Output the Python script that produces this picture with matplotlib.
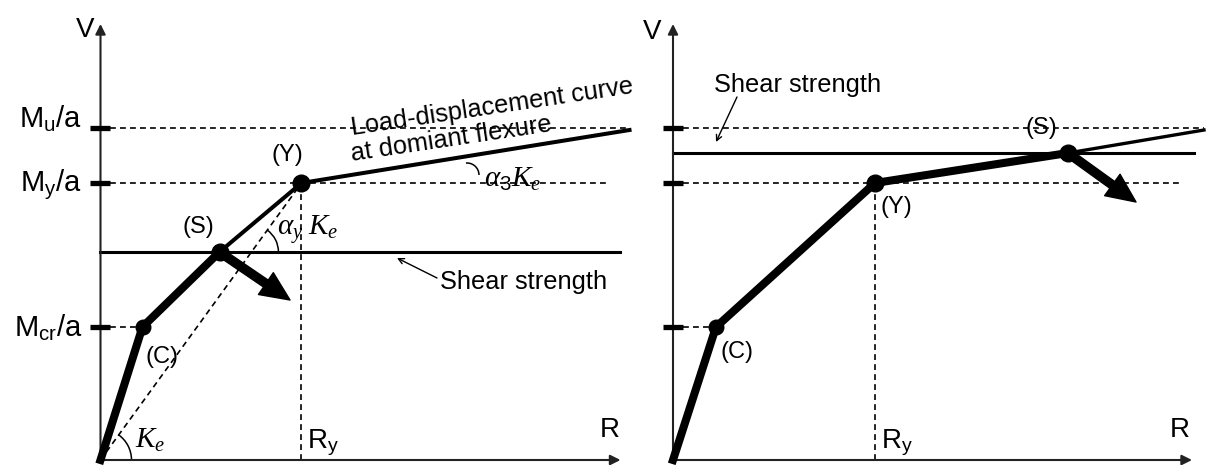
import numpy as np
import matplotlib.pyplot as plt
from matplotlib.patches import Arc, FancyArrowPatch

plt.rcParams['font.family'] = ['Liberation Sans', 'DejaVu Sans']
plt.rcParams['mathtext.fontset'] = 'custom'
plt.rcParams['mathtext.rm'] = 'Liberation Sans'
plt.rcParams['mathtext.sf'] = 'Liberation Sans'
plt.rcParams['mathtext.it'] = 'Liberation Serif:italic'

# levels on the V axis (same in both sketches)
v_cr = 1.33
v_y = 2.77
v_u = 3.32
v_labels = ['M$_{\\mathrm{cr}}$/a', 'M$_{\\mathrm{y}}$/a', 'M$_{\\mathrm{u}}$/a']

# left: shear failure before flexural yielding -> origin, C, S, Y, end of flexure curve
left_r = [0.0, 0.42, 1.19, 2.01, 5.29]
left_v = [0.0, 1.33, 2.08, 2.77, 3.30]
left_shear = 2.08
left_shear_end = 5.19
left_drop = (1.895, 1.60)

# right: shear failure after yielding -> origin, C, Y, S, end of flexure curve
right_r = [0.0, 0.43, 2.02, 3.95, 5.31]
right_v = [0.0, 1.33, 2.77, 3.07, 3.30]
right_shear = 3.07
right_shear_end = 5.21
right_drop = (4.63, 2.58)

fig = plt.figure(figsize=(12.06, 4.65), dpi=100)
axL = fig.add_axes([0, 0, 640 / 1206, 1])
axR = fig.add_axes([640 / 1206, 0, 566 / 1206, 1])
axL.set_xlim(-1.005, 5.395)
axR.set_xlim(-0.33, 5.33)
for ax in (axL, axR):
    ax.set_ylim(-0.05, 4.60)
    ax.axis('off')

dash = dict(color='black', lw=1.2, ls=(0, (3.5, 2.5)), zorder=1)
big = 20


def draw_frame(ax, r_end):
    ax.annotate('', xy=(r_end, 0), xytext=(0, 0),
                arrowprops=dict(arrowstyle='-|>', lw=1.5, color='#222222',
                                mutation_scale=15, shrinkA=0, shrinkB=0))
    ax.annotate('', xy=(0, 4.36), xytext=(0, 0),
                arrowprops=dict(arrowstyle='-|>', lw=1.5, color='#222222',
                                mutation_scale=15, shrinkA=0, shrinkB=0))
    for lv in (v_cr, v_y, v_u):
        ax.plot([-0.1, 0.1], [lv, lv], color='black', lw=3.8, solid_capstyle='butt', zorder=3)


def drop_arrow(ax, start, tip):
    ax.add_patch(FancyArrowPatch(start, tip,
                                 arrowstyle='simple,head_length=1.05,head_width=0.95,tail_width=0.3',
                                 mutation_scale=20, color='black', shrinkA=0, shrinkB=0, zorder=4))


# ---------- left sketch ----------
draw_frame(axL, 5.20)
axL.plot([0.1, 5.265], [v_u, v_u], **dash)
axL.plot([0.1, 5.095], [v_y, v_y], **dash)
axL.plot([0.1, left_r[1]], [v_cr, v_cr], **dash)
axL.plot([left_r[3], left_r[3]], [0, left_v[3]], **dash)
axL.plot([0, left_r[3]], [0, left_v[3]], **dash)

axL.plot([0, left_shear_end], [left_shear, left_shear], color='black', lw=2.2, zorder=2)
axL.plot(left_r[:3], left_v[:3], color='black', lw=5.8, solid_joinstyle='round', zorder=3)
axL.plot(left_r[2:], left_v[2:], color='black', lw=2.9, zorder=3)
axL.plot(left_r[1], left_v[1], 'o', color='black', ms=10.5, zorder=5)
axL.plot(left_r[2:4], left_v[2:4], 'o', color='black', ms=12, zorder=5)
drop_arrow(axL, (left_r[2], left_v[2]), left_drop)

# stiffness arcs
sec_ang = np.degrees(np.arctan2(left_v[3], left_r[3]))
axL.add_patch(Arc((0, 0), 0.62, 0.62, theta1=0, theta2=sec_ang, lw=1.1, color='black'))
x_cross = left_shear * left_r[3] / left_v[3]
axL.add_patch(Arc((x_cross, left_shear), 0.54, 0.54, theta1=0, theta2=sec_ang, lw=1.1, color='black'))
# small hook pointing the post-yield slope label at the curve
axL.add_patch(Arc((3.665, 2.85), 0.24, 0.24, theta1=0, theta2=95, lw=1.1, color='black'))

axL.text(-0.155, 4.30, 'V', fontsize=big, ha='center', va='center')
axL.text(5.095, 0.30, 'R', fontsize=big, ha='center', va='center')
axL.text(left_r[3] + 0.06, 0.12, 'R$_{\\mathrm{y}}$', fontsize=big, ha='left', va='baseline')
for lv, lab, dy in zip((v_cr, v_y, v_u), v_labels, (-0.10, -0.09, 0.0)):
    axL.text(-0.185, lv + dy, lab, fontsize=21, ha='right', va='baseline')

axL.text(0.975, 2.33, '(S)', fontsize=17, ha='center', va='center')
axL.text(1.865, 3.05, '(Y)', fontsize=17, ha='center', va='center')
axL.text(0.615, 1.03, '(C)', fontsize=17, ha='center', va='center')
axL.text(0.345, 0.12, '$K_e$', fontsize=21, ha='left', va='baseline')
axL.text(1.765, 2.25, '$\\alpha_y$', fontsize=21, ha='left', va='baseline')
axL.text(2.075, 2.25, '$K_e$', fontsize=21, ha='left', va='baseline')
axL.text(3.835, 2.73, '$\\alpha_3K_e$', fontsize=21, ha='left', va='baseline')

axL.text(2.515, 3.25, 'Load-displacement curve', fontsize=18.3, ha='left', va='baseline',
         rotation=8.5, rotation_mode='anchor')
axL.text(2.515, 2.99, 'at domiant flexure', fontsize=18.3, ha='left', va='baseline',
         rotation=8.5, rotation_mode='anchor')

axL.text(3.395, 1.78, 'Shear strength', fontsize=18.3, ha='left', va='center')
axL.annotate('', xy=(2.965, 2.02), xytext=(3.365, 1.82),
             arrowprops=dict(arrowstyle='->', lw=1.0, color='black', shrinkA=0, shrinkB=0))

# ---------- right sketch ----------
draw_frame(axR, 5.19)
axR.plot([0.1, 5.31], [v_u, v_u], **dash)
axR.plot([0.1, 5.10], [v_y, v_y], **dash)
axR.plot([0.1, right_r[1]], [v_cr, v_cr], **dash)
axR.plot([right_r[2], right_r[2]], [0, right_v[2]], **dash)

axR.plot([0, right_shear_end], [right_shear, right_shear], color='black', lw=2.2, zorder=2)
axR.plot(right_r[:4], right_v[:4], color='black', lw=5.8, solid_joinstyle='round', zorder=3)
axR.plot(right_r[3:], right_v[3:], color='black', lw=2.4, zorder=3)
axR.plot(right_r[1], right_v[1], 'o', color='black', ms=10.5, zorder=5)
axR.plot(right_r[2:4], right_v[2:4], 'o', color='black', ms=12, zorder=5)
drop_arrow(axR, (right_r[3], right_v[3]), right_drop)

axR.text(-0.21, 4.28, 'V', fontsize=big, ha='center', va='center')
axR.text(5.07, 0.30, 'R', fontsize=big, ha='center', va='center')
axR.text(right_r[2] + 0.06, 0.12, 'R$_{\\mathrm{y}}$', fontsize=big, ha='left', va='baseline')
axR.text(0.64, 1.08, '(C)', fontsize=17, ha='center', va='center')
axR.text(2.23, 2.53, '(Y)', fontsize=17, ha='center', va='center')
axR.text(3.68, 3.32, '(S)', fontsize=17, ha='center', va='center')

axR.text(0.41, 3.75, 'Shear strength', fontsize=18.3, ha='left', va='center')
axR.annotate('', xy=(0.43, 3.18), xytext=(0.64, 3.63),
             arrowprops=dict(arrowstyle='->', lw=1.0, color='black', shrinkA=0, shrinkB=0))

plt.savefig('out.png', dpi=100)
